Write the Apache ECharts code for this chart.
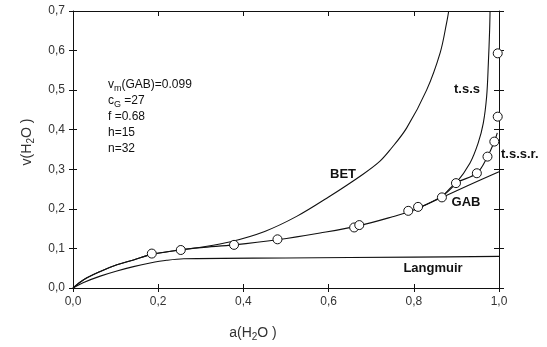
<!DOCTYPE html>
<html>
<head>
<meta charset="utf-8">
<script src="https://cdn.jsdelivr.net/npm/echarts@6/dist/echarts.min.js"></script>
<style>
html,body{margin:0;padding:0;background:#fff;}
#chart{width:547px;height:347px;}
</style>
</head>
<body>
<div id="chart"></div>
<script>
// ---- data ----
const xTickLabels = ['0,0', '0,2', '0,4', '0,6', '0,8', '1,0'];
const yTickLabels = ['0,0', '0,1', '0,2', '0,3', '0,4', '0,5', '0,6', '0,7'];

const langmuir = [[0,0],[0.025,0.014],[0.064,0.03],[0.103,0.043],[0.142,0.054],[0.181,0.063],[0.22,0.07],[0.26,0.074],[0.5,0.076],[0.8,0.078],[1.0,0.08]];
const gab = [[0,0],[0.025,0.021],[0.064,0.042],[0.103,0.059],[0.142,0.071],[0.185,0.085],[0.25,0.096],[0.3,0.102],[0.378,0.109],[0.48,0.122],[0.58,0.139],[0.67,0.157],[0.75,0.18],[0.8,0.197],[0.866,0.229],[0.93,0.26],[1.0,0.294]];
const bet = [[0,0],[0.025,0.021],[0.064,0.042],[0.103,0.059],[0.142,0.071],[0.185,0.085],[0.25,0.096],[0.3,0.103],[0.37,0.117],[0.45,0.143],[0.525,0.181],[0.6,0.23],[0.68,0.287],[0.72,0.32],[0.745,0.35],[0.783,0.404],[0.83,0.5],[0.862,0.595],[0.877,0.67],[0.882,0.7]];
const tss = [[0.8,0.197],[0.866,0.232],[0.899,0.265],[0.932,0.316],[0.951,0.366],[0.963,0.416],[0.971,0.484],[0.975,0.568],[0.978,0.652],[0.979,0.7]];
const tssr = [[0.866,0.229],[0.899,0.265],[0.948,0.29],[0.973,0.332],[0.989,0.37],[0.996,0.392]];
const measured = [[0.185,0.087],[0.253,0.096],[0.378,0.109],[0.48,0.123],[0.66,0.153],[0.672,0.159],[0.787,0.195],[0.81,0.205],[0.866,0.229],[0.899,0.265],[0.948,0.29],[0.973,0.332],[0.989,0.37],[0.997,0.433],[0.997,0.593]];

const paramLines = [
  '{t|v}{s|m}{t|(GAB)=0.099}',
  '{t|c}{s|G}{t| =27}',
  '{t|f =0.68}',
  '{t|h=15}',
  '{t|n=32}'
];

// ---- chart ----
const chart = echarts.init(document.getElementById('chart'), null, {renderer: 'canvas'});
const ink = '#111';
const fontFam = '"Liberation Sans", Arial, sans-serif';

function xAx(extra) {
  return Object.assign({
    type: 'value', min: 0, max: 1, interval: 0.2,
    splitLine: {show: false},
    axisLine: {show: false, onZero: false, lineStyle: {color: ink, width: 1}},
    axisLabel: {show: false},
    axisTick: {show: true, length: 4, lineStyle: {color: ink, width: 1}}
  }, extra);
}
function yAx(extra) {
  return Object.assign({
    type: 'value', min: 0, max: 0.7, interval: 0.1,
    splitLine: {show: false},
    axisLine: {show: false, onZero: false, lineStyle: {color: ink, width: 1}},
    axisLabel: {show: false},
    axisTick: {show: true, length: 4, lineStyle: {color: ink, width: 1}}
  }, extra);
}
const shownLine = {show: true, onZero: false, lineStyle: {color: ink, width: 1}};

const lineStyle = {color: ink, width: 1.1};
function curve(name, data) {
  return {
    name: name, type: 'line', data: data, xAxisIndex: 0, yAxisIndex: 0,
    showSymbol: false, symbol: 'none', smooth: 0.35,
    lineStyle: lineStyle, itemStyle: {color: ink}, z: 2, silent: true, clip: true
  };
}

const labelStyle = {fontFamily: fontFam, fontWeight: 'bold', fontSize: 13, fill: ink};

const option = {
  animation: false,
  backgroundColor: '#fff',
  grid: {left: 73, right: 48, top: 11, bottom: 59, containLabel: false},
  xAxis: [
    xAx({position: 'bottom', axisLine: shownLine,
         axisTick: {show: true, inside: true, length: 4, lineStyle: {color: ink}},
         axisLabel: {show: true, margin: 8, color: '#333', fontSize: 12, fontFamily: fontFam,
                     formatter: (v, i) => xTickLabels[i]}}),
    xAx({position: 'bottom', axisTick: {show: true, inside: false, length: 4, lineStyle: {color: ink}}}),
    xAx({position: 'top', axisLine: shownLine,
         axisTick: {show: true, inside: true, length: 5, lineStyle: {color: ink}}})
  ],
  yAxis: [
    yAx({position: 'left', axisLine: shownLine,
         axisTick: {show: true, inside: true, length: 4, lineStyle: {color: ink}},
         axisLabel: {show: true, margin: 8, color: '#333', fontSize: 12, fontFamily: fontFam,
                     formatter: (v, i) => yTickLabels[i]}}),
    yAx({position: 'left', axisTick: {show: true, inside: false, length: 4, lineStyle: {color: ink}}}),
    yAx({position: 'right', axisLine: shownLine,
         axisTick: {show: true, inside: true, length: 5, lineStyle: {color: ink}}}),
    yAx({position: 'right', axisTick: {show: true, inside: false, length: 5, lineStyle: {color: ink}}})
  ],
  series: [
    curve('Langmuir', langmuir),
    curve('GAB', gab),
    curve('BET', bet),
    curve('t.s.s', tss),
    curve('t.s.s.r.', tssr),
    {
      name: 'measured', type: 'scatter', data: measured, xAxisIndex: 0, yAxisIndex: 0,
      symbol: 'circle', symbolSize: 9,
      itemStyle: {color: '#fff', borderColor: ink, borderWidth: 1, opacity: 1}, z: 5, silent: true
    }
  ],
  graphic: [
    {type: 'text', left: 108, top: 79, silent: true,
     style: {text: paramLines.join('\n'), fontFamily: fontFam,
       rich: {
         t: {fontSize: 12, lineHeight: 16, fontFamily: fontFam, fill: ink, verticalAlign: 'middle'},
         s: {fontSize: 9, lineHeight: 9, fontFamily: fontFam, fill: ink, verticalAlign: 'bottom'}
       }}},
    {type: 'text', x: 343, y: 174, silent: true, style: Object.assign({text: 'BET', align: 'center', verticalAlign: 'middle'}, labelStyle)},
    {type: 'text', x: 467, y: 89, silent: true, style: Object.assign({text: 't.s.s', align: 'center', verticalAlign: 'middle'}, labelStyle)},
    {type: 'text', x: 501, y: 154, silent: true, style: Object.assign({text: 't.s.s.r.', align: 'left', verticalAlign: 'middle'}, labelStyle)},
    {type: 'text', x: 466, y: 202, silent: true, style: Object.assign({text: 'GAB', align: 'center', verticalAlign: 'middle'}, labelStyle)},
    {type: 'text', x: 433, y: 268, silent: true, style: Object.assign({text: 'Langmuir', align: 'center', verticalAlign: 'middle'}, labelStyle)},
    {type: 'text', x: 253, y: 333, silent: true,
     style: {text: '{t|a(H}{s|2}{t|O )}', align: 'center', verticalAlign: 'middle',
       rich: {
         t: {fontSize: 14, lineHeight: 18, fontFamily: fontFam, fill: '#333', verticalAlign: 'middle'},
         s: {fontSize: 10, lineHeight: 10, fontFamily: fontFam, fill: '#333', verticalAlign: 'bottom'}
       }}},
    {type: 'text', x: 27, y: 142, rotation: Math.PI / 2, silent: true,
     style: {text: '{t|v(H}{s|2}{t|O )}', align: 'center', verticalAlign: 'middle',
       rich: {
         t: {fontSize: 14, lineHeight: 18, fontFamily: fontFam, fill: '#333', verticalAlign: 'middle'},
         s: {fontSize: 10, lineHeight: 10, fontFamily: fontFam, fill: '#333', verticalAlign: 'bottom'}
       }}}
  ]
};
chart.setOption(option);
</script>
</body>
</html>
